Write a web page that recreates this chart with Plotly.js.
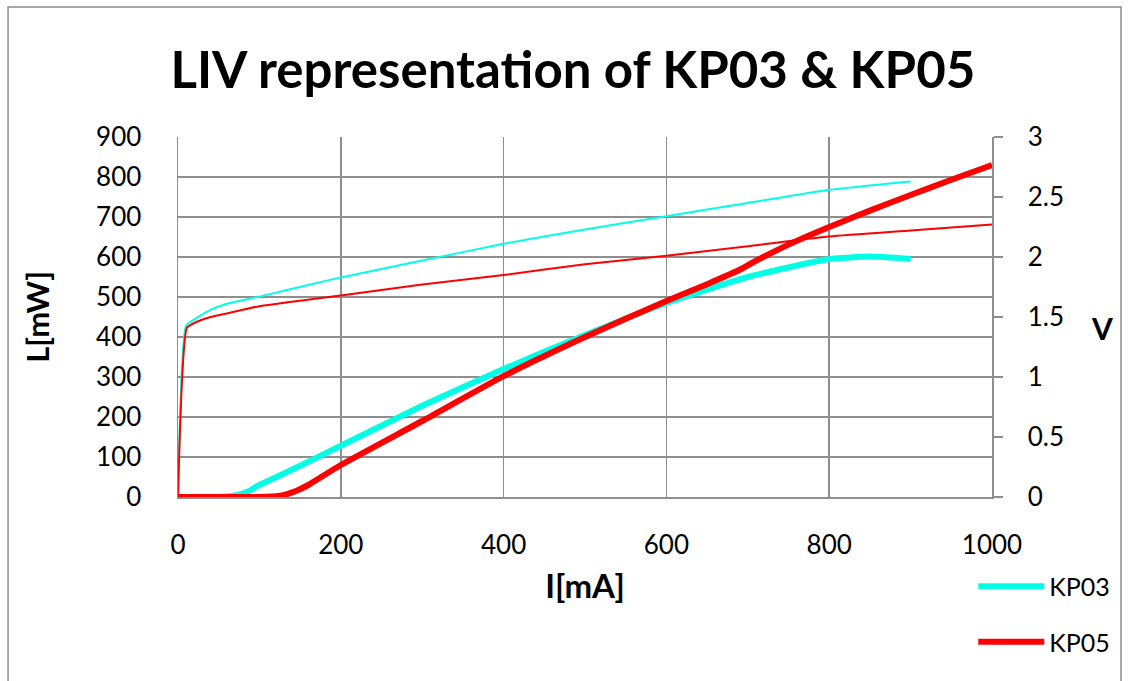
<!DOCTYPE html>
<html><head><meta charset="utf-8">
<script src="https://cdn.plot.ly/plotly-3.0.1.min.js"></script>
<style>html,body{margin:0;padding:0;background:#fff}#chart{width:1130px;height:681px}</style>
</head><body><div id="chart"></div>
<script>
// KP03 optical power L [mW] vs current I [mA]
const kp03_I_L = [0, 50, 60, 70, 80, 90, 95, 100, 150, 200, 300, 400, 500, 600, 700, 800, 850, 900];
const kp03_L   = [0, 0, 1, 4, 9, 18, 25, 30, 78, 128, 228, 320, 405, 485, 550, 595, 601, 595];
// KP05 optical power
const kp05_I_L = [0, 100, 115, 125, 135, 145, 160, 200, 300, 400, 500, 600, 650, 690, 705, 750, 800, 850, 900, 950, 1000];
const kp05_L   = [0, 0, 1, 3, 8, 15, 30, 80, 190, 302, 400, 490, 532, 568, 585, 631, 675, 716, 755, 793, 830];
// KP03 voltage V
const kp03_I_V = [0, 10, 20, 40, 60, 100, 200, 300, 400, 500, 600, 700, 800, 900];
const kp03_V   = [0, 1.43, 1.48, 1.56, 1.61, 1.67, 1.83, 1.97, 2.11, 2.23, 2.34, 2.45, 2.56, 2.63];
// KP05 voltage V
const kp05_I_V = [0, 11, 20, 40, 60, 100, 200, 300, 400, 500, 600, 700, 800, 900, 1000];
const kp05_V   = [0, 1.41, 1.45, 1.50, 1.53, 1.59, 1.68, 1.77, 1.85, 1.94, 2.01, 2.09, 2.17, 2.22, 2.27];

const cyan = '#00FFE5', red = '#FF0000', grid = '#8E8E8E';
const F = 'Lato, "Open Sans", sans-serif';

const traces = [
  {x: kp03_I_V, y: kp03_V, yaxis: 'y2', mode: 'lines', line: {color: cyan, width: 2, shape: 'spline', smoothing: 0.5}, showlegend: false, hoverinfo: 'skip'},
  {x: kp05_I_V, y: kp05_V, yaxis: 'y2', mode: 'lines', line: {color: red, width: 2, shape: 'spline', smoothing: 0.5}, showlegend: false, hoverinfo: 'skip'},
  {x: kp03_I_L, y: kp03_L, name: 'KP03', legendgroup: 'a', mode: 'lines', line: {color: cyan, width: 6, shape: 'spline', smoothing: 0.5}},
  {x: kp05_I_L, y: kp05_L, name: 'KP05', legendgroup: 'b', mode: 'lines', line: {color: red, width: 6, shape: 'spline', smoothing: 0.5}}
];

const layout = {
  width: 1130, height: 681,
  margin: {l: 178, r: 138, t: 137, b: 184},
  paper_bgcolor: '#fff', plot_bgcolor: '#fff',
  font: {family: F, color: '#000', size: 26},
  title: {text: '<b>LIV representation of KP03 &amp; KP05</b>', font: {family: F, size: 51, color: '#000'}, x: 0.507, xanchor: 'center', y: 0.897, yanchor: 'middle'},
  xaxis: {range: [0, 1000], dtick: 200, tick0: 0, showgrid: true, gridcolor: grid, gridwidth: 1.5,
          showline: true, linecolor: grid, linewidth: 1.5, zeroline: false, ticks: '', ticklabelstandoff: 24,
          tickfont: {family: F, size: 26},
          title: {text: '<b>I[mA]</b>', font: {family: F, size: 33}, standoff: 16}},
  yaxis: {range: [0, 900], dtick: 100, tick0: 0, showgrid: true, gridcolor: grid, gridwidth: 1.5,
          showline: true, linecolor: grid, linewidth: 1.5, zeroline: false, ticks: '', ticklabelstandoff: 30,
          tickfont: {family: F, size: 26},
          title: {text: '<b>L[mW]</b>', font: {family: F, size: 31}, standoff: 37}},
  yaxis2: {overlaying: 'y', side: 'right', range: [0, 3], dtick: 0.5, tick0: 0, showgrid: false, zeroline: false,
           showline: true, linecolor: grid, linewidth: 1.5, ticks: 'outside', ticklen: 9, tickwidth: 1.5, tickcolor: grid,
           ticklabelstandoff: 20, tickfont: {family: F, size: 26}},
  annotations: [{text: '<b>V</b>', xref: 'paper', yref: 'paper', x: 1.135, y: 0.47, xanchor: 'center', yanchor: 'middle',
                 showarrow: false, font: {family: F, size: 30, color: '#000'}}],
  legend: {x: 0.977, xanchor: 'left', y: -0.185, yanchor: 'top', itemwidth: 66, tracegroupgap: 20,
           font: {family: F, size: 25}, bgcolor: 'rgba(0,0,0,0)', traceorder: 'grouped', borderwidth: 0},
  shapes: [{type: 'rect', xref: 'paper', yref: 'paper', x0: -0.2088, x1: 1.1585, y0: -0.55, y1: 1.361,
            line: {color: '#8C8C8C', width: 1.5}, fillcolor: 'rgba(0,0,0,0)', layer: 'below'}],
  showlegend: true
};

Plotly.newPlot('chart', traces, layout, {displayModeBar: false, staticPlot: true});
</script>
</body></html>
